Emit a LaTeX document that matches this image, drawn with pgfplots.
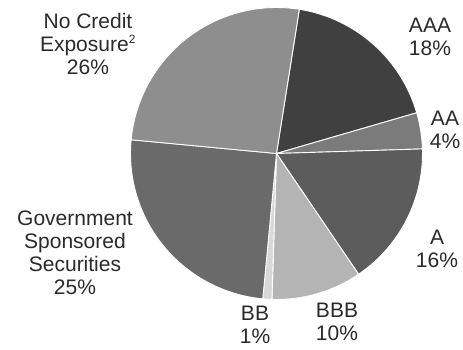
\documentclass[border=0pt]{standalone}
\usepackage{pgfplots}
\pgfplotsset{compat=1.18}
\usepackage{fontspec}
\setmainfont{Liberation Sans}
\definecolor{cAAA}{HTML}{404040}
\definecolor{cAA}{HTML}{7B7B7B}
\definecolor{cA}{HTML}{5C5C5C}
\definecolor{cBBB}{HTML}{B4B4B4}
\definecolor{cBB}{HTML}{D8D8D8}
\definecolor{cGov}{HTML}{6A6A6A}
\definecolor{cNo}{HTML}{8E8E8E}
\definecolor{txt}{HTML}{2A2A2A}
\begin{document}
\begin{tikzpicture}
\begin{axis}[hide axis, scale only axis, width=463pt, height=349pt,
  xmin=0, xmax=463, ymin=0, ymax=349, clip=false]
\pgfplotsextra{
  \gdef\ang{81}
  \foreach \v/\c in {18/cAAA,4/cAA,16/cA,10/cBBB,1/cBB,25/cGov,26/cNo}{
    \pgfmathsetmacro\e{\ang-3.6*\v}
    \fill[\c, draw=white, line width=0.9pt, line join=round]
      (axis cs:276.5,195.5) -- ++(\ang:146pt)
      arc[start angle=\ang, end angle=\e, radius=146pt] -- cycle;
    \xdef\ang{\e}
  }
}
\begin{scope}[every node/.style={font=\fontsize{21}{23}\selectfont, text=txt, align=center, inner sep=0pt}]
\node at (axis cs:88,305) {No Credit\\Exposure\textsuperscript{\fontsize{12}{12}\selectfont 2}\\26\%};
\node at (axis cs:430,312) {AAA\\18\%};
\node at (axis cs:445,219) {AA\\4\%};
\node at (axis cs:437,100) {A\\16\%};
\node at (axis cs:337,27) {BBB\\10\%};
\node at (axis cs:255,24) {BB\\1\%};
\node at (axis cs:75,96) {Government\\Sponsored\\Securities\\25\%};
\end{scope}
\end{axis}
\pgfresetboundingbox
\path (current axis.south west) rectangle (current axis.north east);
\end{tikzpicture}
\end{document}
